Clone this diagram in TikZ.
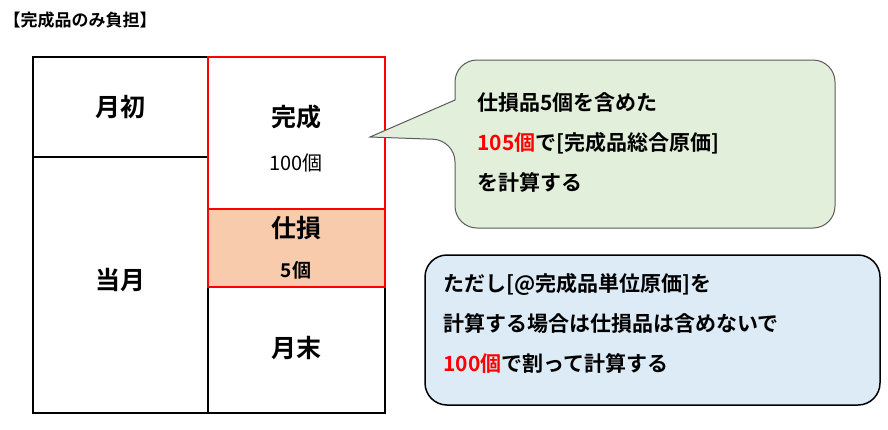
\documentclass[tikz,border=0pt]{standalone}
\usepackage{fontspec}
\newfontfamily\cjk{Noto Sans CJK JP}[BoldFont=* Bold]
\begin{document}
\begin{tikzpicture}[x=1pt,y=-1pt,font=\cjk\bfseries,
 big/.style={font=\cjk\bfseries\fontsize{25}{30}\selectfont},
 mid/.style={font=\cjk\fontsize{20}{22}\selectfont},
 txt/.style={font=\cjk\bfseries\fontsize{21}{40}\selectfont,align=left,anchor=west}]
\useasboundingbox (0,0) rectangle (888,429);
\node[anchor=west,font=\cjk\bfseries\fontsize{17}{20}\selectfont] (title) at (0,20) {【完成品のみ負担】};
\fill[fill={rgb,255:red,248;green,203;blue,173}] (208,209) rectangle (385,287);
\draw[line width=1.5pt] (33,57) rectangle (385,413);
\draw[line width=1.2pt] (33,157) -- (208,157) (208,57) -- (208,413);
\draw[red,line width=1.5pt] (208,57) rectangle (385,287) (208,209) -- (385,209);
\node[big] (a) at (120,107) {月初};
\node[big] (b) at (120,280) {当月};
\node[big] (c) at (296,117) {完成};
\node[mid] (c2) at (296,163) {100個};
\node[big] (d) at (296,228) {仕損};
\node[mid,font=\cjk\bfseries\fontsize{19}{22}\selectfont] (d2) at (296,270) {5個};
\node[big] (e) at (296,348) {月末};
\coordinate (tip) at (370,137);
\draw[fill={rgb,255:red,226;green,239;blue,218},draw={rgb,255:red,90;green,90;blue,90},line width=1pt,rounded corners=22pt]
 (455,60) -- (835,60) -- (835,228) -- (455,228) -- (455,140)[sharp corners] -- (tip) -- (455,100)[rounded corners=22pt] -- cycle;
\node[txt] (g) at (474,142) {仕損品5個を含めた\\\textcolor{red}{105個}で[完成品総合原価]\\を計算する};
\draw[fill={rgb,255:red,221;green,235;blue,247},line width=1.5pt,rounded corners=22pt] (425,255) rectangle (880,405);
\node[txt] (h) at (440,323) {ただし[@完成品単位原価]を\\計算する場合は仕損品は含めないで\\\textcolor{red}{100個}で割って計算する};
\end{tikzpicture}
\end{document}
